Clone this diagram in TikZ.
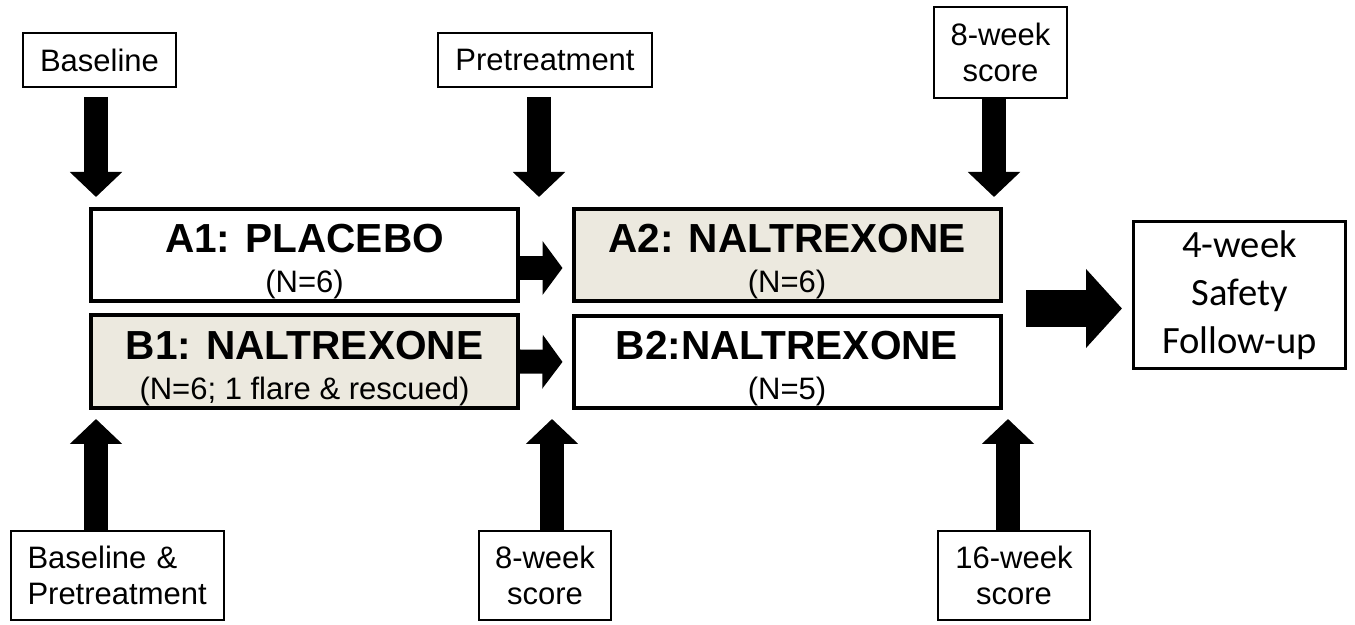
\documentclass[tikz,border=0pt]{standalone}
\usepackage{fontspec}
\setmainfont{Liberation Sans}
\newfontfamily\calibfont{Carlito}
\usetikzlibrary{arrows.meta}
\definecolor{armfill}{RGB}{236,233,223}
\newcommand{\armtext}[2]{{\fontsize{20.3}{19}\selectfont\bfseries\rule{0pt}{21pt}#1}\\[1pt]{\fontsize{15.5}{19}\selectfont #2}}

\begin{document}
\begin{tikzpicture}[x=0.5pt, y=-0.5pt, line join=miter,
    tagbox/.style={draw, line width=1pt, inner sep=0pt, align=center, font=\fontsize{15.5}{18}\selectfont},
    arm/.style={draw, line width=2pt, inner sep=0pt, minimum width=213.5pt, minimum height=46pt, align=center, font=\fontsize{20.3}{19}\selectfont},
    blockarrow/.style={line width=12pt, -{Triangle[length=12.5pt, width=25.5pt]}},
    sidearrow/.style={line width=12pt, -{Triangle[length=10pt, width=26.5pt]}},
  ]
\fill[white] (0,0) rectangle (1355,625);
\useasboundingbox (0,0) rectangle (1355,625);

% time points
\node[tagbox, minimum width=76.5pt, minimum height=27pt] (base) at (99.5,60) {Baseline};
\node[tagbox, minimum width=107pt, minimum height=27pt] (pre) at (545,60) {Pretreatment};
\node[tagbox, minimum width=66.5pt, minimum height=45.5pt] (wkA) at (1000.5,52.5) {8-week\\score};
\node[tagbox, minimum width=106.5pt, minimum height=44.5pt, align=left, text width=90pt] (basepre) at (117.5,575.5) {Baseline \&\\Pretreatment};
\node[tagbox, minimum width=66pt, minimum height=44.5pt] (wkB) at (545,575.5) {8-week\\score};
\node[tagbox, minimum width=76pt, minimum height=44.5pt] (wk16) at (1014,575.5) {16-week\\score};

% arms
\node[arm] (a1) at (304.5,255) {\armtext{A1: PLACEBO}{(N=6)}};
\node[arm, fill=armfill, minimum height=46.5pt] (b1) at (304.5,361.5) {\armtext{B1: NALTREXONE}{(N=6; 1 flare \& rescued)}};
\node[arm, fill=armfill] (a2) at (787,255) {\armtext{A2: NALTREXONE}{(N=6)}};
\node[arm] (b2) at (787,362) {\armtext{B2:NALTREXONE}{(N=5)}};
\node[draw, line width=1.5pt, inner sep=0pt, minimum width=106pt, minimum height=73.5pt, align=center,
      font=\calibfont\fontsize{19.3}{24}\selectfont] (safety) at (1239.5,295) {4-week\\Safety\\Follow-up};

\coordinate (c1) at (96,0);
\coordinate (c2) at (539,0);
\coordinate (c3) at (994,0);
\coordinate (c4) at (552,0);
\coordinate (c5) at (1008,0);
\coordinate (ay) at (0,268);
\coordinate (fstart) at (1026,308.5);

% arrows
\foreach \src/\dst/\col/\gap in {base/a1/c1/4.5pt, pre/a1/c2/4.5pt, wkA/a2/c3/0pt}
  \draw[blockarrow, shorten <=\gap, shorten >=5pt] (\src.south -| \col) -- (\dst.north -| \col);
\foreach \src/\dst/\col in {basepre/b1/c1, wkB/b2/c4, wk16/b2/c5}
  \draw[blockarrow, shorten >=4.5pt] (\src.north -| \col) -- (\dst.south -| \col);
\draw[sidearrow, shorten >=4.5pt] (a1.east |- ay) -- (a2.west |- ay);
\draw[sidearrow, shorten >=4.5pt] (b1.east) -- (b2.west);
\draw[line width=18.5pt, -{Triangle[length=18pt, width=38.5pt]}, shorten >=5pt] (fstart) -- (safety.west |- fstart);
\end{tikzpicture}
\end{document}
